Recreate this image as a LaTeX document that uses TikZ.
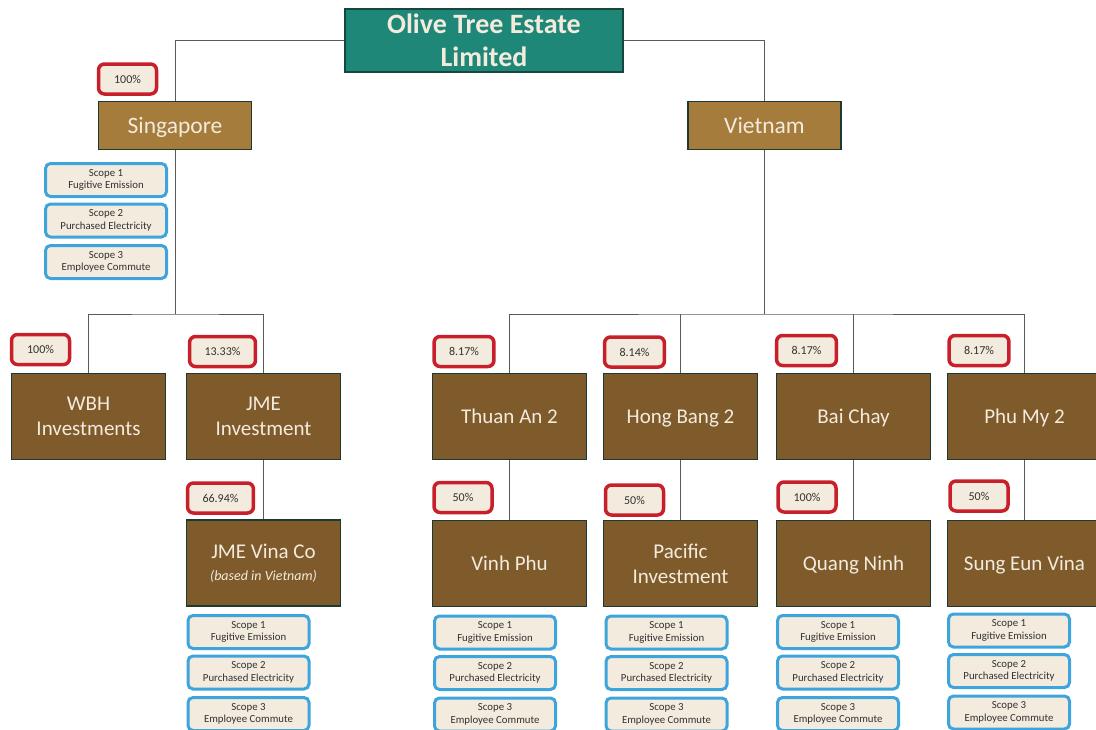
\documentclass[tikz,border=0pt]{standalone}
\usepackage{fontspec}
\setmainfont{Carlito}
\definecolor{headteal}{RGB}{31,135,119}
\definecolor{headline}{RGB}{22,70,60}
\definecolor{regionbrown}{RGB}{166,124,60}
\definecolor{entitybrown}{RGB}{127,91,44}
\definecolor{boxline}{RGB}{28,58,50}
\definecolor{cream}{RGB}{243,235,221}
\definecolor{sharered}{RGB}{200,32,42}
\definecolor{scopeblue}{RGB}{62,164,220}
\definecolor{sharetext}{RGB}{50,50,50}
\definecolor{linegray}{RGB}{90,90,90}

\begin{document}
\begin{tikzpicture}[x=1pt, y=-1pt,
    link/.style={draw=linegray, line width=1pt},
    head/.style={draw=headline, fill=headteal, text=cream, line width=1.5pt, align=center,
      font=\bfseries\fontsize{28}{33.5}\selectfont, minimum width=278, minimum height=63, inner sep=0pt},
    region/.style={draw=boxline, fill=regionbrown, text=cream, line width=1.2pt,
      font=\fontsize{23.5}{26}\selectfont, text height=15.1pt, text depth=0pt,
      minimum width=153, minimum height=48, inner sep=0pt},
    entity/.style={draw=boxline, fill=entitybrown, text=cream, line width=1.2pt, align=center,
      font=\fontsize{21}{25}\selectfont, minimum width=154, minimum height=86, inner sep=0pt},
    oneline/.style={entity, text height=13.5pt, text depth=0pt},
    share/.style={draw=sharered, fill=cream, rounded corners=6pt, line width=3.5pt, text=sharetext,
      font=\fontsize{12}{14}\selectfont, inner xsep=15pt, minimum width=58, minimum height=30},
    scopebox/.style={draw=scopeblue, fill=cream, rounded corners=5pt, line width=3pt, text=sharetext,
      font=\fontsize{10.8}{12.5}\selectfont, align=center, minimum width=121, minimum height=33, inner sep=0pt}]

\useasboundingbox (0,0) rectangle (1096,729);
\clip (0,0) rectangle (1096,729);

\node[head] (title) at (484,40.5) {Olive Tree Estate\\Limited};

\node[region] (sg) at (175,125.5) {Singapore};
\node[region] (vn) at (764.5,125.5) {Vietnam};

\node[entity] (wbh) at (88.5,416.5) {WBH\\Investments};
\node[entity] (jme) at (263.5,416.5) {JME\\Investment};
\node[entity] (jmev) at (263.5,563) {JME Vina Co\\[-3pt]{\itshape\fontsize{14}{16}\selectfont(based in Vietnam)}};

\node[oneline] (thuan) at (509.5,416.5) {Thuan An 2};
\node[oneline] (hong) at (680.5,416.5) {Hong Bang 2};
\node[oneline] (bai) at (853.5,416.5) {Bai Chay};
\node[oneline] (phu) at (1024.5,416.5) {Phu My 2};

\node[oneline] (vinh) at (509.5,563.5) {Vinh Phu};
\node[entity] (pac) at (680.5,563.5) {Pacific\\Investment};
\node[oneline] (quang) at (853.5,563.5) {Quang Ninh};
\node[oneline] (sung) at (1024.5,563.5) {Sung Eun Vina};

\foreach \n/\x/\y/\t in {sg/127.5/79/100\%, wbh/40.5/349.5/100\%, jme/222.5/351.5/13.33\%,
    jmev/220.5/498/66.94\%, thuan/464/351.5/8.17\%, hong/634.5/352/8.14\%,
    bai/806.5/350.5/8.17\%, phu/979/350.5/8.17\%, vinh/463/497.5/50\%,
    pac/634.5/500/50\%, quang/807/497/100\%, sung/979/496/50\%}
  \node[share] (p-\n) at (\x,\y) {\t};

\foreach \n/\x/\y in {sg/106/180, jmev/248.5/632, vinh/495/632.5, pac/666.5/632.5,
    quang/838/632, sung/1009/630.5} {
  \node[scopebox] (\n-s1) at (\x,\y) {Scope 1\\Fugitive Emission};
  \node[scopebox] (\n-s2) at (\x,\y+40.5) {Scope 2\\Purchased Electricity};
  \node[scopebox] (\n-s3) at (\x,\y+82) {Scope 3\\Employee Commute};
}

\draw[link] (title.west) -| (sg.north);
\draw[link] (title.east) -| (vn.north);

\coordinate (sgj) at (175,314);
\draw[link] (sg.south) -- (sgj);
\draw[link] (wbh.north) |- (sgj) -| (jme.north);
\draw[link] (jme.south) -- (jmev.north);

\coordinate (vnj) at (764.5,314);
\draw[link] (vn.south) -- (vnj);
\draw[link] (thuan.north) |- (vnj) -| (phu.north);
\draw[link] (hong.north) -- (hong.north |- vnj);
\draw[link] (bai.north) -- (bai.north |- vnj);
\foreach \a/\b in {thuan/vinh, hong/pac, bai/quang, phu/sung}
  \draw[link] (\a.south) -- (\b.north);
\end{tikzpicture}
\end{document}
